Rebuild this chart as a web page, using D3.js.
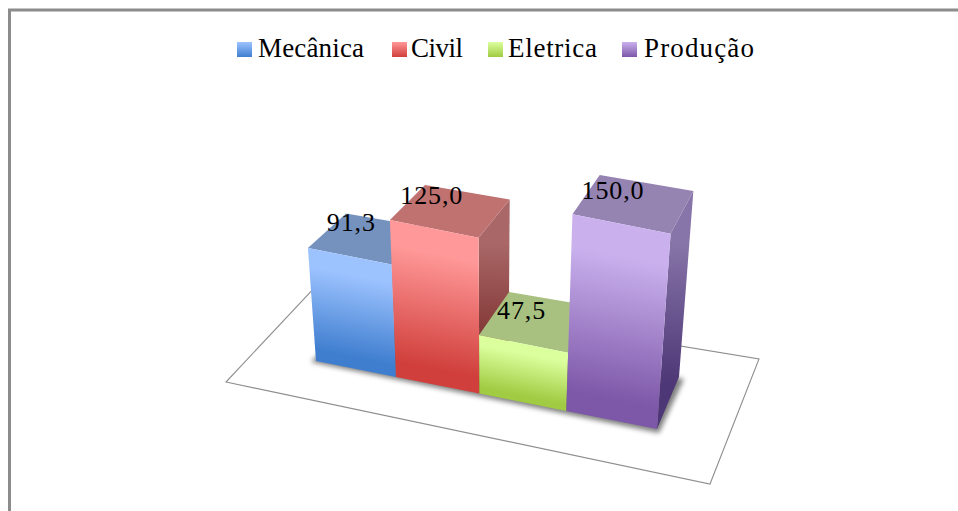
<!DOCTYPE html>
<html><head><meta charset="utf-8">
<style>html,body{margin:0;padding:0;background:#fff;overflow:hidden}svg{display:block}text{font-family:"Liberation Serif",serif;fill:#000}</style>
<script src="https://cdn.jsdelivr.net/npm/d3@7"></script></head><body>
<svg id="c" width="958" height="511"></svg>
<script>
const categories = ["Mecânica","Civil","Eletrica","Produção"];
const values = [91.3,125.0,47.5,150.0];
const valueLabels = ["91,3","125,0","47,5","150,0"];
const frontLight = ["#9DC3FF","#FF9898","#DCFF9E","#CAB1EE"];
const frontDark  = ["#3F7ECF","#D03F3B","#A0CB42","#7D57A8"];
const topColor   = ["#7592BF","#C07271","#A9C180","#9583B2"];
const sideLight  = ["#7A93BE","#A96767","#90A86C","#8774A8"];
const sideDark   = ["#2F5C9A","#7A2E2C","#6F8D2E","#4D3776"];

const legendSwatchX=[237,392,488,622], legendTextX=[258,411,508,644], legendTextW=[106,52,89,110];
const labelNudgeX=[2,-2,-1.5,-8];
const footprint=[[316,361],[657,429],[679,377],[352,321]];
const floorQuad=[[226,382],[710,484],[759,359],[316,286]];
const vp=[491,2810];
const foreshorten=0.0875, depthShrink=0.063;

const lerp=(p,q,t)=>[p[0]+(q[0]-p[0])*t,p[1]+(q[1]-p[1])*t];
const base=(u,v)=>{const w=u/(1+foreshorten*(1-u));
  return lerp(lerp(footprint[0],footprint[1],w),lerp(footprint[3],footprint[2],w),v);};

const uScale=d3.scaleBand().domain(categories).range([0,1]).padding(0);
const hScale=d3.scaleLinear().domain([0,50,100,125,150]).range([0,-0.0249,-0.0482,-0.0606,-0.0758]);
const project=(u,v,val)=>{const [bx,by]=base(u,v),k=hScale(val)*(1-depthShrink*v);
  return[(bx+k*vp[0])/(1+k),(by+k*vp[1])/(1+k)];};
const pts=p=>p.map(q=>q.map(n=>n.toFixed(2)).join(",")).join(" ");

const svg=d3.select("#c");
const defs=svg.append("defs");
const blur=defs.append("filter").attr("id","sh").attr("x","-20%").attr("y","-20%").attr("width","140%").attr("height","140%");
blur.append("feGaussianBlur").attr("stdDeviation",2.6);

function grad(id,c0,c1,p,q){
  const gr=defs.append("linearGradient").attr("id",id).attr("gradientUnits","userSpaceOnUse")
    .attr("x1",p[0]).attr("y1",p[1]).attr("x2",q[0]).attr("y2",q[1]);
  [[0,c0],[.16,c0],[.9,c1],[1,c1]].forEach(s=>gr.append("stop").attr("offset",s[0]).attr("stop-color",s[1]));
}

// frame
svg.append("path").attr("d","M9.5,511V10H958").attr("fill","none").attr("stroke","#8c8c8c").attr("stroke-width",3);

// floor
svg.append("polygon").attr("points",pts(floorQuad)).attr("fill","#fff").attr("stroke","#8f8f8f").attr("stroke-width",1.1);

// shadow
const s=footprint;
svg.append("polygon").attr("points",pts([[s[0][0]-5,s[0][1]+1],[s[1][0]+2,s[1][1]+4],[s[2][0]+5,s[2][1]+2],[s[3][0],s[3][1]]]))
  .attr("fill","#555").attr("opacity",.75).attr("filter","url(#sh)");

// bars
categories.forEach((cat,i)=>{
  const ul=uScale(cat),ur=ul+uScale.bandwidth(),val=values[i];
  const fb=[project(ul,0,0),project(ur,0,0)],ft=[project(ul,0,val),project(ur,0,val)];
  const bb=project(ur,1,0),bt=project(ur,1,val),bl=project(ul,1,val);
  // side
  const midT=[(ft[1][0]+bt[0])/2,(ft[1][1]+bt[1])/2],midB=[(fb[1][0]+bb[0])/2,(fb[1][1]+bb[1])/2];
  grad("s"+i,sideLight[i],sideDark[i],midT,midB);
  svg.append("polygon").attr("points",pts([ft[1],bt,bb,fb[1]])).attr("fill",`url(#s${i})`);
  // top
  svg.append("polygon").attr("points",pts([ft[0],ft[1],bt,bl])).attr("fill",topColor[i]);
  // front: gradient normal to the tilted top edge
  const tm=[(ft[0][0]+ft[1][0])/2,(ft[0][1]+ft[1][1])/2],bm=[(fb[0][0]+fb[1][0])/2,(fb[0][1]+fb[1][1])/2];
  const ex=ft[1][0]-ft[0][0],ey=ft[1][1]-ft[0][1],L=Math.hypot(ex,ey),nx=-ey/L,ny=ex/L;
  const dist=(bm[0]-tm[0])*nx+(bm[1]-tm[1])*ny;
  grad("f"+i,frontLight[i],frontDark[i],tm,[tm[0]+nx*dist,tm[1]+ny*dist]);
  svg.append("polygon").attr("points",pts([ft[0],ft[1],fb[1],fb[0]])).attr("fill",`url(#f${i})`);
});

// data labels
categories.forEach((cat,i)=>{
  const p=project(uScale(cat)+uScale.bandwidth()/2,0,values[i]);
  svg.append("text").attr("x",p[0]+labelNudgeX[i]).attr("y",p[1]-25).attr("text-anchor","middle")
    .attr("font-size",26).attr("letter-spacing",.9).text(valueLabels[i]);
});

// legend
categories.forEach((cat,i)=>{
  const gr=defs.append("linearGradient").attr("id","l"+i).attr("x1",0).attr("y1",0).attr("x2",0).attr("y2",1);
  gr.append("stop").attr("offset",0).attr("stop-color",frontLight[i]);
  gr.append("stop").attr("offset",1).attr("stop-color",frontDark[i]);
  svg.append("rect").attr("x",legendSwatchX[i]).attr("y",42).attr("width",15).attr("height",15).attr("fill",`url(#l${i})`);
  svg.append("text").attr("x",legendTextX[i]).attr("y",57).attr("font-size",27)
    .attr("textLength",legendTextW[i]).attr("lengthAdjust","spacing").text(cat);
});
</script></body></html>
